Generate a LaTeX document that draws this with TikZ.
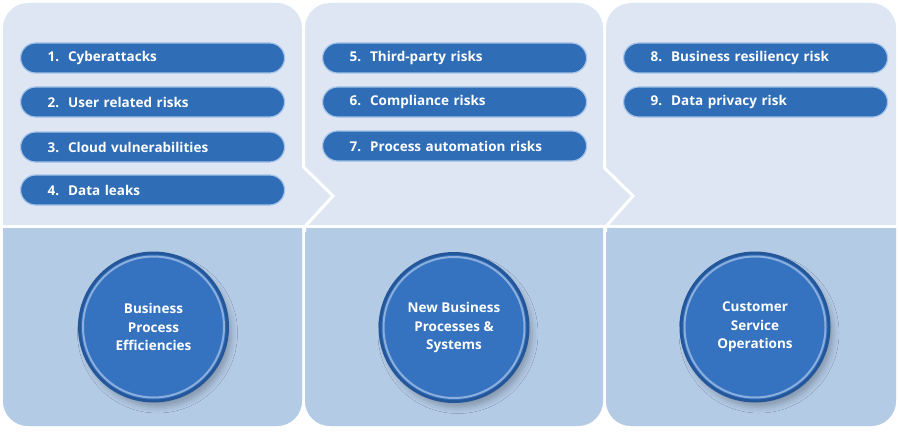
\documentclass[tikz,border=0pt]{standalone}
\usepackage{fontspec}
\setmainfont{Open Sans}
\usetikzlibrary{shadows.blur}
\definecolor{topc}{HTML}{DDE6F2}
\definecolor{botc}{HTML}{B4CBE6}
\definecolor{barc}{HTML}{2F6DB7}
\definecolor{barline}{HTML}{A5C2E8}
\definecolor{circc}{HTML}{3573C0}
\definecolor{ringlight}{HTML}{8CAEDD}
\definecolor{ringdark}{HTML}{24569A}
\begin{document}
\begin{tikzpicture}[x=1pt,y=-1pt,
  riskbar/.style={draw=barline, line width=1.2pt, fill=barc, rounded corners=15pt,
    minimum height=30pt, text width=210pt, inner xsep=27pt, inner ysep=0pt,
    align=left, anchor=west, text=white, font=\fontsize{13.5}{15}\selectfont\bfseries},
  hub/.style={circle, fill=circc, draw=ringdark, line width=3pt, minimum size=148pt,
    inner sep=0pt, text=white, align=center, font=\fontsize{13.5}{18.5}\selectfont\bfseries,
    blur shadow={shadow xshift=4pt, shadow yshift=-6pt, shadow blur radius=6pt, shadow opacity=25}},
  gapline/.style={white, line width=3pt, line join=miter},
]
\useasboundingbox (0,0) rectangle (900,436);
% columns (top colour)
\fill[topc, rounded corners=25pt] (3,3) rectangle (302,426);
\fill[topc, rounded corners=25pt] (305,3) rectangle (603,426);
\fill[topc, rounded corners=25pt] (606,3) rectangle (896,426);
\fill[topc] (300,166) rectangle (307,228);
\fill[topc] (601,167) rectangle (608,228);
% bottom sections
\fill[botc, rounded corners=25pt] (3,228) -- (3,426) -- (302,426) -- (302,228);
\fill[botc, rounded corners=25pt] (305,228) -- (305,426) -- (603,426) -- (603,228);
\fill[botc, rounded corners=25pt] (606,228) -- (606,426) -- (896,426) -- (896,228);
% white separators and chevrons
\draw[gapline] (303.5,160) -- (303.5,167) -- (333,196) -- (304.5,227) -- (304.5,232);
\draw[gapline] (604.5,160) -- (604.5,168) -- (633,196) -- (605.5,227) -- (605.5,232);
\draw[gapline] (0,226.5) -- (900,226.5);
% risk bars
\node[riskbar] (r1) at (20,58) {1.\ \ Cyberattacks};
\node[riskbar] (r2) at (20,102) {2.\ \ User related risks};
\node[riskbar] (r3) at (20,147) {3.\ \ Cloud vulnerabilities};
\node[riskbar] (r4) at (20,190) {4.\ \ Data leaks};
\node[riskbar] (r5) at (322,58) {5.\ \ Third-party risks};
\node[riskbar] (r6) at (322,102) {6.\ \ Compliance risks};
\node[riskbar] (r7) at (322,146) {7.\ \ Process automation risks};
\node[riskbar] (r8) at (623,58) {8.\ \ Business resiliency risk};
\node[riskbar] (r9) at (623,102) {9.\ \ Data privacy risk};
% hubs
\node[hub] (h1) at (153.5,327) {Business\\Process\\Efficiencies};
\node[hub] (h2) at (454,327.5) {New Business\\Processes \&\\Systems};
\node[hub] (h3) at (755,327) {Customer\\Service\\Operations};
\foreach \h in {h1,h2,h3}{
  \draw[ringlight, line width=2pt] (\h.center) circle[radius=70.5];
}
\end{tikzpicture}
\end{document}
